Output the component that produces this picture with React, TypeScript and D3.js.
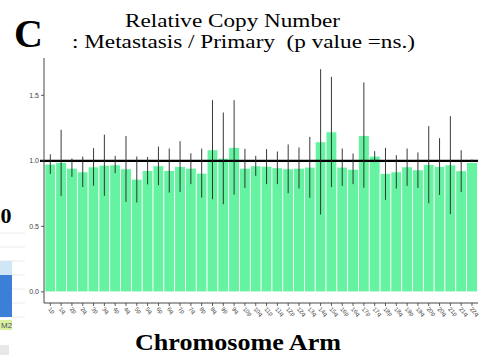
import React from "react";
import * as d3 from "d3";

const arms = [
  "1p","1q","2p","2q","3p","3q","4p","4q","5p","5q",
  "6p","6q","7p","7q","8p","8q","9p","9q","10p","10q",
  "11p","11q","12p","12q","13q","14q","15q","16p","16q","17p",
  "17q","18p","18q","19p","19q","20p","20q","21p","21q","22q",
];
const ratio = [
  0.975,0.987,0.944,0.916,0.954,0.967,0.969,0.939,0.86,0.926,
  0.962,0.926,0.957,0.944,0.906,1.084,1.02,1.102,0.944,0.962,
  0.959,0.947,0.939,0.944,0.952,1.145,1.221,0.952,0.936,1.193,
  1.036,0.903,0.916,0.954,0.931,0.972,0.957,0.969,0.924,0.987,
];
const errHigh = [
  1.05,1.237,1.018,1.033,1.097,1.2,1.038,1.19,1.033,1.03,
  1.109,1.094,1.15,1.058,1.094,1.463,1.369,1.463,1.092,1.038,
  1.089,1.071,1.125,1.102,1.183,1.70,1.641,1.094,1.056,1.598,
  1.074,1.099,1.043,1.094,1.064,1.265,1.173,1.341,1.081,1.01,
];
const errLow = [
  0.9,0.733,0.878,0.8,0.81,0.733,0.906,0.687,0.682,0.82,
  0.814,0.758,0.763,0.822,0.72,0.707,0.669,0.743,0.794,0.885,
  0.822,0.822,0.753,0.789,0.718,0.59,0.8,0.809,0.822,0.794,
  0.99,0.702,0.789,0.809,0.794,0.677,0.74,0.593,0.763,0.99,
];
const yTicks = [0, 0.5, 1.0, 1.5];

const SERIF = "Liberation Serif, Times New Roman, serif";
const SANS = "Liberation Sans, Arial, sans-serif";

export default function App() {
  const W = 488, H = 355;
  const x = d3.scaleBand<string>().domain(arms).range([44.9, 477.4]).padding(0);
  const y = d3.scaleLinear().domain([-0.085, 1.785]).range([303, 58]);
  const fmt = d3.format(".1f");
  const axisBottom = 303;
  const axisLeft = 44;

  return (
    <svg width={W} height={H} style={{ position: "absolute", left: 0, top: 0, background: "#fff" }}>
      {/* fragment of neighbouring panel */}
      <g>
        {[233, 247, 261, 275, 289, 303, 317].map((g) => (
          <line key={g} x1={0} x2={25} y1={g} y2={g} stroke="#e4e4e4" strokeWidth={0.8} />
        ))}
        <rect x={0} y={261} width={12} height={14} fill="#cfe6f5" />
        <rect x={0} y={275} width={12} height={42} fill="#3b7fd8" />
        <rect x={0} y={320} width={12} height={10} fill="#d8f0a0" />
        <text x={1} y={328} fontSize={8} fontFamily={SANS} fill="#556">M2</text>
        <rect x={0} y={345} width={9} height={10} fill="#e8e8e8" />
        <text x={0.5} y={223} fontSize={22} fontWeight="bold" fontFamily={SERIF}>0</text>
      </g>

      {/* title */}
      <text x={14} y={47} fontSize={40} fontWeight="bold" fontFamily={SERIF}>C</text>
      <text x={125} y={26.5} fontSize={19.5} fontFamily={SERIF} textLength={215} lengthAdjust="spacingAndGlyphs">Relative Copy Number</text>
      <text x={72} y={47.5} fontSize={19.5} fontFamily={SERIF} xmlSpace="preserve" textLength={343} lengthAdjust="spacingAndGlyphs">: Metastasis / Primary  (p value =ns.)</text>

      {/* bars */}
      {arms.map((a, i) => (
        <rect
          key={a}
          x={x(a)!}
          y={y(ratio[i])}
          width={x.bandwidth()}
          height={y(0) - y(ratio[i])}
          fill="#66f3a1"
          stroke="#ffffff"
          strokeWidth={0.8}
        />
      ))}

      {/* reference line */}
      <line x1={40} x2={478} y1={y(1)} y2={y(1)} stroke="#000" strokeWidth={2.2} />

      {/* error bars */}
      {arms.map((a, i) => {
        const cx = x(a)! + x.bandwidth() / 2;
        return (
          <line key={a} x1={cx} x2={cx} y1={y(errHigh[i])} y2={y(errLow[i])} stroke="#222" strokeWidth={0.9} />
        );
      })}

      {/* axes */}
      <line x1={axisLeft} x2={axisLeft} y1={58} y2={axisBottom} stroke="#333" strokeWidth={0.9} />
      <line x1={axisLeft} x2={478} y1={axisBottom} y2={axisBottom} stroke="#333" strokeWidth={0.9} />
      {yTicks.map((t) => (
        <g key={t}>
          <line x1={axisLeft - 3} x2={axisLeft} y1={y(t)} y2={y(t)} stroke="#333" strokeWidth={0.8} />
          <text x={axisLeft - 5} y={y(t) + 2.4} textAnchor="end" fontSize={7} fill="#444" fontFamily={SANS}>{fmt(t)}</text>
        </g>
      ))}
      {arms.map((a) => {
        const cx = x(a)! + x.bandwidth() / 2;
        return (
          <g key={a}>
            <line x1={cx} x2={cx} y1={axisBottom} y2={axisBottom + 3} stroke="#333" strokeWidth={0.8} />
            <text
              transform={`translate(${cx - 2.5},${axisBottom + 6.5}) rotate(45)`}
              fontSize={6}
              fill="#444"
              fontFamily={SANS}
            >{a}</text>
          </g>
        );
      })}

      <text x={135} y={350} fontSize={24} fontWeight="bold" fontFamily={SERIF} textLength={206} lengthAdjust="spacingAndGlyphs">Chromosome Arm</text>
    </svg>
  );
}
